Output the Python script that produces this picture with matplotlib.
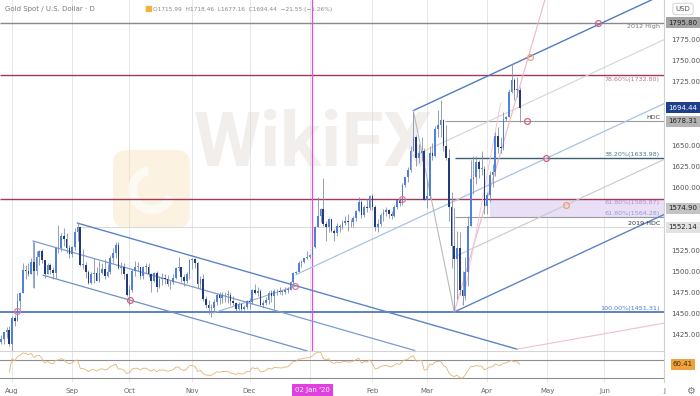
## Import Required Packages
import matplotlib
matplotlib.use('Agg')
import matplotlib.pyplot as plt
import matplotlib.transforms as mtransforms
from matplotlib.patches import FancyBboxPatch, Circle, Wedge
import numpy as np
import pandas as pd

## Daily XAU/USD bars, one per weekday from 25 Jul 2019 to 17 Apr 2020
first_open = 1426.0
closes = [
    1415, 1419, 1427, 1430, 1413,
    1444, 1440, 1464, 1474, 1501, 1500, 1497, 1511, 1500, 1517, 1524,
    1513, 1497, 1507, 1501, 1498, 1527, 1527, 1542, 1538, 1527, 1520,
    1529, 1547, 1552, 1507, 1507, 1499, 1486, 1497, 1498, 1488, 1498,
    1502, 1494, 1499, 1516, 1522, 1531, 1504, 1505, 1497, 1472,
    1478, 1500, 1505, 1505, 1494, 1505, 1505, 1496, 1488, 1498, 1481, 1491,
    1492, 1490, 1484, 1487, 1492, 1504, 1505, 1493, 1488, 1496, 1513,
    1514, 1510, 1484, 1491, 1467, 1459, 1456, 1456, 1463, 1471, 1468,
    1471, 1472, 1472, 1464, 1462, 1455, 1461, 1455, 1457, 1464,
    1463, 1477, 1474, 1476, 1460, 1462, 1465, 1474, 1470, 1476, 1476,
    1475, 1475, 1478, 1478, 1487, 1498, 1499, 1510, 1511, 1515, 1517,
    1519, 1528, 1552, 1566, 1574, 1556, 1552, 1562, 1548, 1545, 1554, 1552,
    1557, 1560, 1558, 1558, 1563, 1571, 1582, 1567, 1576, 1575, 1589,
    1576, 1552, 1556, 1567, 1570, 1573, 1568, 1566, 1576, 1584,
    1581, 1602, 1612, 1620, 1643, 1659, 1635, 1641, 1643, 1585,
    1589, 1641, 1637, 1669, 1674, 1680, 1649, 1635, 1576, 1530, 1514,
    1527, 1477, 1470, 1499, 1553, 1610, 1612, 1630, 1622, 1622, 1577,
    1591, 1614, 1618, 1661, 1648, 1646, 1681, 1683, 1713, 1727, 1716, 1716, 1694.44,
]
highs = [
    1433, 1424, 1428, 1433, 1434,
    1446, 1448, 1474, 1475, 1510, 1507, 1509, 1515, 1535, 1524, 1525,
    1526, 1511, 1509, 1509, 1505, 1527, 1555, 1545, 1551, 1545, 1531,
    1530, 1551, 1557, 1552, 1526, 1511, 1501, 1499, 1516, 1505, 1512,
    1509, 1514, 1508, 1519, 1527, 1535, 1535, 1511, 1509, 1498,
    1483, 1503, 1512, 1511, 1505, 1506, 1510, 1510, 1498, 1499, 1500, 1494,
    1498, 1497, 1495, 1489, 1497, 1505, 1517, 1505, 1497, 1499, 1514,
    1516, 1516, 1511, 1494, 1496, 1470, 1465, 1461, 1467, 1474, 1475,
    1475, 1475, 1477, 1475, 1470, 1463, 1463, 1462, 1459, 1465,
    1468, 1479, 1484, 1481, 1479, 1465, 1469, 1476, 1477, 1479, 1479,
    1481, 1478, 1481, 1481, 1488, 1499, 1500, 1512, 1513, 1516, 1524,
    1520, 1529, 1553, 1588, 1575, 1611, 1559, 1563, 1561, 1550, 1557, 1556,
    1561, 1565, 1568, 1562, 1566, 1573, 1588, 1584, 1578, 1586, 1590,
    1592, 1578, 1562, 1569, 1574, 1576, 1574, 1571, 1578, 1585,
    1585, 1605, 1612, 1624, 1649, 1689, 1662, 1651, 1660, 1646,
    1610, 1649, 1652, 1673, 1692, 1703, 1681, 1674, 1645, 1594, 1575,
    1548, 1547, 1500, 1517, 1566, 1632, 1637, 1637, 1632, 1643, 1625,
    1594, 1619, 1627, 1666, 1671, 1660, 1689, 1685, 1717, 1747, 1730, 1731, 1718.46,
]
lows = [
    1413, 1413, 1413, 1420, 1411,
    1400, 1434, 1440, 1455, 1474, 1491, 1494, 1496, 1480, 1495, 1507,
    1510, 1492, 1496, 1496, 1491, 1492, 1521, 1524, 1530, 1522, 1516,
    1517, 1525, 1536, 1506, 1502, 1492, 1485, 1485, 1486, 1488, 1487,
    1497, 1490, 1493, 1497, 1510, 1515, 1502, 1497, 1490, 1470,
    1459, 1475, 1494, 1500, 1490, 1491, 1498, 1493, 1475, 1487, 1475, 1480,
    1483, 1485, 1482, 1479, 1484, 1490, 1500, 1487, 1482, 1486, 1491,
    1503, 1504, 1480, 1479, 1464, 1456, 1449, 1445, 1451, 1459, 1461,
    1462, 1463, 1462, 1459, 1460, 1453, 1454, 1452, 1454, 1455,
    1455, 1461, 1473, 1470, 1458, 1456, 1460, 1461, 1463, 1455, 1472,
    1473, 1471, 1473, 1474, 1477, 1485, 1496, 1499, 1505, 1510, 1514,
    1516, 1516, 1527, 1552, 1558, 1553, 1536, 1547, 1546, 1536, 1542, 1546,
    1550, 1555, 1548, 1552, 1552, 1560, 1570, 1563, 1564, 1570, 1573,
    1573, 1548, 1547, 1553, 1560, 1566, 1563, 1562, 1564, 1574,
    1577, 1579, 1600, 1606, 1618, 1643, 1625, 1628, 1631, 1584,
    1575, 1586, 1632, 1636, 1660, 1660, 1643, 1632, 1560, 1504, 1451.31,
    1467, 1472, 1460, 1466, 1482, 1553, 1592, 1604, 1611, 1614, 1568,
    1568, 1582, 1600, 1613, 1640, 1641, 1644, 1678, 1683, 1712, 1703, 1707, 1677.16,
]

price_ticks = [1425, 1450, 1475, 1500, 1525, 1600, 1625, 1650, 1725, 1750, 1775]
month_labels = ['Aug', 'Sep', 'Oct', 'Nov', 'Dec', "02 Jan '20", 'Feb', 'Mar', 'Apr', 'May', 'Jun', 'J']

## Horizontal levels: price, first bar, colour, width, label, label colour, label above line
levels = [
    (1795.80, 0, '#8a8a8a', 1.0, '2012 High', '#777777', False),
    (1732.80, 0, '#9b3b5e', 1.0, '78.60%(1732.80)', '#c0708e', False),
    (1678.31, 163.6, '#9a9a9a', 0.8, 'HDC', '#444444', True),
    (1633.98, 167.3, '#3d5f6e', 1.0, '38.20%(1633.98)', '#4a7a92', True),
    (1585.87, 0, '#9b3b5e', 1.0, '61.80%(1585.87)', '#b08ad0', False),
    (1564.28, 167.3, '#9a9a9a', 0.8, '61.80%(1564.28)', '#9a9ad0', True),
    (1552.14, 29, '#d8d8d8', 0.7, '2019 HDC', '#333333', True),
    (1451.31, 0, '#2f5fb8', 1.1, '100.00%(1451.31)', '#4a7ad8', True),
]
fib_band = (180, 1564.28, 1585.87)

## Trend drawings: anchor bar, anchor price, slope ($/bar), end bar, colour, width
desc_slope = -0.932
asc_slope = 1.51
trend_lines = [
    (29, 1557, desc_slope, 190, '#5b84c4', 1.0),
    (12.7, 1535.7, desc_slope, 152.5, '#7d9bcf', 0.9),
    (16.4, 1495, desc_slope, 113, '#6f8fca', 0.9),
    (152, 1691, asc_slope, 244, '#4f7bc4', 1.0),
    (109, 1495.7, asc_slope, 244, '#a9c2e6', 0.9),
    (152, 1636.7, asc_slope, 244, '#d5d5d8', 0.8),
    (167, 1516.8, asc_slope, 244, '#c9c9cc', 0.8),
    (167, 1451.31, asc_slope, 244, '#5b84c4', 1.0),
    (78.6, 1450, 1.06, 108.7, '#9fb0cf', 0.8),
]
segments = [
    ((12.7, 12.7), (1535.7, 1481), '#9fb0cf', 0.8),
    ((152, 167), (1691, 1451.31), '#b8b8c0', 0.8),
    ((167, 201), (1451.31, 1832), '#f0b5c5', 0.8),
    ((170, 184), (1460, 1700), '#f3c8d2', 0.7),
    ((190, 244), (1407, 1438), '#f0c0cc', 0.8),
]
circles = [
    (219.7, 1795.8, '#d9607e'), (194.7, 1755, '#f0a070'), (193.6, 1678.3, '#d9607e'),
    (200.6, 1634, '#d9607e'), (207.9, 1578, '#f0a070'), (48.2, 1465.5, '#d9607e'),
    (108.7, 1482, '#e07a96'), (147.9, 1586, '#e07a96'), (6.8, 1452, '#e07a96'),
]

## Bar positions (weekday index) and axis dates
dates = pd.bdate_range('2019-07-25', periods=len(closes))
axis_dates = pd.bdate_range('2019-07-25', '2020-07-10')
x = np.arange(len(closes))
opens = np.r_[first_open, closes[:-1]]
closes_a = np.array(closes, dtype=float)
month_pos = [axis_dates.get_indexer([d])[0] for d in
             pd.Series(axis_dates).groupby(axis_dates.to_period('M')).first().values][1:13]

## RSI(14), Wilder smoothing
delta = pd.Series(closes_a).diff()
avg_gain = delta.clip(lower=0).ewm(alpha=1 / 14, adjust=True).mean()
avg_loss = (-delta.clip(upper=0)).ewm(alpha=1 / 14, adjust=True).mean()
rsi = 100 - 100 / (1 + avg_gain / avg_loss)

W, H = 700, 396
fig = plt.figure(figsize=(W / 100, H / 100), dpi=100)
fig.patch.set_facecolor('white')
ax = fig.add_axes([0, 1 - 351 / H, 664 / W, 351 / H])
ax_rsi = fig.add_axes([0, 1 - 382 / H, 664 / W, 31 / H], sharex=ax)

x_left, x_right = 0.6, 243.8
ax.set_xlim(x_left, x_right)
ax.set_ylim(1404.8, 1822.6)
ax_rsi.set_ylim(21, 90)

for a in (ax, ax_rsi):
    for s in a.spines.values():
        s.set_visible(False)
    a.tick_params(axis='x', which='both', length=0, labelbottom=False)
    for m in month_pos:
        a.axvline(m, color='#e6e6e6', lw=0.7, zorder=0)

## Watermark
px = mtransforms.IdentityTransform()
logo = FancyBboxPatch((113, H - 228), 77, 78, boxstyle='round,pad=0,rounding_size=14',
                      transform=px, facecolor='#f8dcae', edgecolor='none', alpha=0.35, zorder=0.2)
ax.add_patch(logo)
ax.add_patch(Wedge((152, H - 190), 24, 100, 340, width=9, transform=px,
                   facecolor='#ffffff', alpha=0.6, zorder=0.3))
ax.text(313, H - 145, 'WikiFX', transform=px, family='Roboto', weight='bold', fontsize=55,
        color='#ddd6d1', alpha=0.4, ha='center', va='center', zorder=0.2)

## Fibonacci band and horizontal levels
ax.fill_between([fib_band[0], x_right], fib_band[1], fib_band[2], color='#e9dff6', zorder=0.5, lw=0)
for price, start, col, lw, lab, lab_col, above in levels:
    ax.hlines(price, max(start, x_left), x_right, color=col, lw=lw, zorder=1)
    ax.text(x_right - 1.5, price + (1.2 if above else -1.5), lab, fontsize=4.6, color=lab_col,
            ha='right', va='bottom' if above else 'top', zorder=4)

## Channels / pitchforks
for x0, y0, slope, x1, col, lw in trend_lines:
    xs = np.array([x0, x1])
    ax.plot(xs, y0 + slope * (xs - x0), color=col, lw=lw, zorder=1.5)
for xs, ys, col, lw in segments:
    ax.plot(xs, ys, color=col, lw=lw, zorder=1.5)

## 02 Jan marker
jan2 = dates.get_loc(pd.Timestamp('2020-01-02'))
ax.axvline(jan2, color='#e34ce8', lw=0.9, zorder=1.2)

## Candles
up = closes_a >= opens
ax.vlines(x, lows, highs, color='#8290ad', lw=0.6, zorder=2)
body_h = np.maximum(np.abs(closes_a - opens), 0.8)
ax.bar(x[up], body_h[up], bottom=np.minimum(opens, closes_a)[up], width=0.6,
       color='#4f80dc', lw=0, zorder=3)
ax.bar(x[~up], body_h[~up], bottom=np.minimum(opens, closes_a)[~up], width=0.6,
       color='#22397c', lw=0, zorder=3)

for cx, cy, col in circles:
    ax.plot(cx, cy, 'o', ms=4.2, mfc='none', mec=col, mew=0.9, zorder=5)

## Right price scale
ax.yaxis.tick_right()
ax.set_yticks(price_ticks)
ax.set_yticklabels([f'{v:.2f}' for v in price_ticks])
ax.tick_params(axis='y', length=0, pad=5, labelsize=5, labelcolor='#555555')
ax_rsi.set_yticks([])

tag_tr = mtransforms.blended_transform_factory(fig.transFigure, ax.transData)
tags = [(1795.80, '#a3a3a3', '#1f1f1f'), (1694.44, '#1d3f8e', 'white'),
        (1678.31, '#b4b4b4', '#1f1f1f'), (1574.90, '#c4c4c4', '#1f1f1f'),
        (1552.14, '#e2e2e2', '#1f1f1f')]
for val, bg, fg in tags:
    ax.text(683 / W, val, f'{val:.2f}', transform=tag_tr, fontsize=5, color=fg, ha='center',
            va='center', clip_on=False, zorder=6,
            bbox=dict(boxstyle='square,pad=0.35', facecolor=bg, edgecolor='none'))

## RSI pane
ax_rsi.plot(x[4:], rsi.values[4:], color='#e2b474', lw=0.6, zorder=2)
ax_rsi.axhline(70, color='#8e8e8e', lw=0.8, zorder=1)
ax_rsi.axhline(30, color='#8e8e8e', lw=0.8, zorder=1)
rsi_tr = mtransforms.blended_transform_factory(fig.transFigure, ax_rsi.transData)
ax_rsi.text(683 / W, rsi.values[-1], f'{rsi.values[-1]:.2f}', transform=rsi_tr, fontsize=5,
            color='#3a2a10', ha='center', va='center', clip_on=False,
            bbox=dict(boxstyle='square,pad=0.35', facecolor='#f0a23c', edgecolor='none'))

## Frame lines
fig.add_artist(plt.Line2D([664 / W, 664 / W], [1 - 382 / H, 1], color='#d0d0d0', lw=0.8))
fig.add_artist(plt.Line2D([0, 664 / W], [1 - 351 / H] * 2, color='#d4d4d4', lw=0.8))

## Time axis
time_tr = mtransforms.blended_transform_factory(ax.transData, fig.transFigure)
for pos, lab in zip(month_pos, month_labels):
    if lab.startswith('02'):
        ax.text(jan2, 1 - 390 / H, lab, transform=time_tr, fontsize=5, color='white', ha='center',
                va='center', clip_on=False,
                bbox=dict(boxstyle='square,pad=0.4', facecolor='#e040e0', edgecolor='none'))
    else:
        ax.text(pos, 1 - 391 / H, lab, transform=time_tr, fontsize=5, color='#666666',
                ha='center', va='center', clip_on=False)
fig.text(690 / W, 1 - 391 / H, '\u2699', fontsize=7, color='#777777', ha='center', va='center')

## Header
fig.text(5 / W, 1 - 9 / H, 'Gold Spot / U.S. Dollar \u00b7 D', fontsize=5, color='#7a7a7a', va='center')
fig.text(144 / W, 1 - 9 / H, '\u25a0', fontsize=6, color='#f2b33d', va='center')
fig.text(153 / W, 1 - 9 / H, 'O1715.99  H1718.46  L1677.16  C1694.44  \u221221.55 (\u22121.26%)',
         fontsize=4.2, color='#8a8a8a', va='center')
fig.text(683 / W, 1 - 9 / H, 'USD', fontsize=5, color='#555555', ha='center', va='center',
         bbox=dict(boxstyle='round,pad=0.4', facecolor='white', edgecolor='#cccccc', lw=0.6))

fig.savefig('out.png', dpi=100)
